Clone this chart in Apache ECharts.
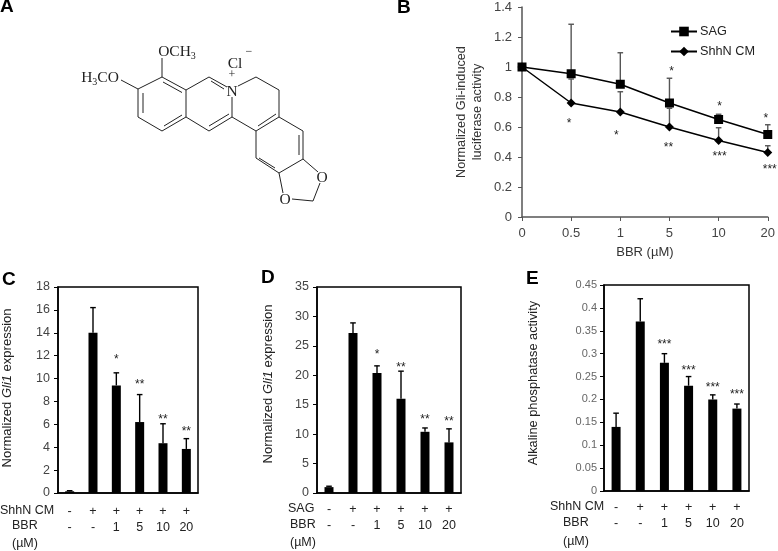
<!DOCTYPE html>
<html><head><meta charset="utf-8">
<style>html,body{margin:0;padding:0;background:#fff}#c{width:778px;height:551px}</style>
<script src="https://cdn.jsdelivr.net/npm/echarts@6/dist/echarts.min.js"></script>
</head><body><div id="c"></div>
<script>
// Panel B
const doses = ['0','0.5','1','5','10','20'];
const sagValues = [1,0.955,0.885,0.76,0.65,0.55];
const sagUpper = [1,1.285,1.095,0.925,0.685,0.615];
const sagStars = ['','','','*','*','*'];
const sagStarLevels = [0,0,0,0.98,0.747,0.67];
const shhValues = [1,0.76,0.70,0.60,0.51,0.43];
const shhUpper = [1,0.92,0.835,0.725,0.595,0.475];
const shhStars = ['','*','*','**','***','***'];
const shhStarLevels = [0,0.636,0.554,0.474,0.415,0.33];
// Panel C
const cValues = [0.15,14,9.4,6.2,4.35,3.85];
const cUpper = [0.2,16.2,10.5,8.6,6.05,4.75];
const cStars = ['','','*','**','**','**'];
const cStarLevels = [0,0,11.8,9.6,6.6,5.55];
// Panel D
const dValues = [1,27.2,20.4,16,10.4,8.6];
const dUpper = [1.15,28.9,21.6,20.7,11.05,10.9];
const dStars = ['','','*','**','**','**'];
const dStarLevels = [0,0,23.9,21.7,12.8,12.4];
// Panel E
const eValues = [0.14,0.37,0.28,0.23,0.20,0.18];
const eUpper = [0.17,0.42,0.30,0.25,0.21,0.19];
const eStars = ['','','***','***','***','***'];
const eStarLevels = [0,0,0.323,0.268,0.2305,0.2137];
// Treatment rows
const rowTreatment = ['-','+','+','+','+','+'];
const rowBBR = ['-','-','1','5','10','20'];

// Structure of berberine chloride (panel A): [x1,y1,x2,y2] in picture pixels
const bonds = [
 [138,89,162,77],[162,77,186,90],[186,90,186,117],[186,117,162,131],[162,131,138,117],[138,117,138,89],
 [143,93,143,113],[163,82,182,92.5],[182,115,164,126],
 [186,90,209,77],[209,77,227,87],[211,81,224,89],[232,97,232,117],[232,117,209,131],[229,114,209,126],[209,131,186,117],
 [238,86,256,77],[256,77,279,90],[279,90,279,117],[279,117,256,131],[256,131,232,117],[276,114,258,126],
 [279,117,303,131],[303,131,303,159],[303,159,279,173],[279,173,256,158],[256,158,256,131],
 [299,135,299,155],[275,168,259,158],
 [303,159,318,172],[320,183,313,201],[313,201,292,199],[283,193,279,173],
 [162,77,162,58],[121,80,138,89]
];
const chemTexts = [
 {t:'{a|OCH}{s|3}',x:177,y:52},
 {t:'{a|H}{s|3}{a|CO}',x:100,y:78},
 {t:'{a|Cl}',x:235,y:64},
 {t:'{a|N}',x:232,y:92},
 {t:'{a|O}',x:322,y:178},
 {t:'{a|O}',x:285,y:200},
 {t:'{p|+}',x:232,y:75},
 {t:'{p|−}',x:249,y:52}
];

const sans = '"Liberation Sans", Arial, sans-serif';
const serif = '"Liberation Serif", "Times New Roman", serif';
const tick = '#444';

function errSeries(id, grid, values, upper, stars, levels, color, z, dx) {
  return {
    name:id, type:'custom', xAxisIndex:grid, yAxisIndex:grid, z, silent:true, clip:false,
    data: upper.map((u,i)=>[i,u]),
    encode:{x:0,y:1},
    renderItem(params, api){
      const i = params.dataIndex;
      const top = api.coord([i, upper[i]]);
      const b = api.coord([i, values[i]]);
      const children = [];
      const st = {stroke:color, lineWidth:1.4};
      if (upper[i] > values[i]) {
        children.push({type:'line',shape:{x1:top[0],y1:top[1],x2:b[0],y2:b[1]},style:st});
        children.push({type:'line',shape:{x1:top[0]-2.8,y1:top[1],x2:top[0]+2.8,y2:top[1]},style:st});
      }
      if (stars[i]) {
        const p = api.coord([i, levels[i]]);
        children.push({type:'text',x:p[0]+(dx?dx[i]:0),y:p[1]+2,
          style:{text:stars[i],font:'12px '+sans,fill:'#222',align:'center',verticalAlign:'middle'}});
      }
      return {type:'group',children};
    }
  };
}

function barGrid(idx, rect, max, interval, fmt) {
  return {
    grid:{left:rect[0],top:rect[1],width:rect[2],height:rect[3],show:true,borderColor:'#000',borderWidth:1.5,backgroundColor:'transparent'},
    xAxis:{type:'category',gridIndex:idx,data:rowTreatment.map((t,i)=>t+'\n'+rowBBR[i]),
      axisTick:{show:false},axisLine:{lineStyle:{color:'#000',width:1.5}},
      axisLabel:{interval:0,color:'#222',fontFamily:sans,fontSize:12.5,lineHeight:15.5,margin:fmt.xMargin,hideOverlap:false}},
    yAxis:{type:'value',gridIndex:idx,min:0,max,interval,splitLine:{show:false},
      axisLine:{show:true,lineStyle:{color:'#000',width:1.5}},
      axisTick:{show:true,length:4,lineStyle:{color:'#000',width:1}},
      axisLabel:{color:fmt.color,fontFamily:sans,fontSize:fmt.size,margin:fmt.margin,
        formatter:v=>+v.toFixed(2)+''},
      name:fmt.name,nameLocation:'middle',nameGap:fmt.gap,nameRotate:90,
      nameTextStyle:{color:'#222',fontFamily:sans,fontSize:fmt.nameSize,padding:[0,0,0,fmt.pad],
        rich:{i:{fontStyle:'italic',fontFamily:sans,fontSize:fmt.nameSize,color:'#222'}}}}
  };
}
const gliName = 'Normalized {i|Gli1} expression';
const C = barGrid(1,[52,287,146,206],18,2,{size:12.5,margin:8,name:gliName,gap:44,nameSize:13,pad:4,xMargin:11,color:tick});
const D = barGrid(2,[317,287,144,206],35,5,{size:12.5,margin:8,name:gliName,gap:42,nameSize:13,pad:12,xMargin:9,color:tick});
const E = barGrid(3,[604,285,145,206],0.45,0.05,{size:11,margin:7,name:'Alkaline phosphatase activity',gap:64,nameSize:12.8,pad:10,xMargin:9,color:'#666'});

const B = {
  grid:{left:522,top:7,width:247,height:210},
  xAxis:{type:'category',gridIndex:0,data:doses,boundaryGap:false,
    axisTick:{show:true,length:4,alignWithLabel:true,lineStyle:{color:'#555',width:1}},
    axisLine:{lineStyle:{color:'#555',width:1.5}},
    axisLabel:{interval:0,color:tick,fontFamily:sans,fontSize:13,margin:10,hideOverlap:false,showMinLabel:true,showMaxLabel:true},
    name:'BBR (µM)',nameLocation:'middle',nameGap:29,nameTextStyle:{color:'#333',fontFamily:sans,fontSize:13}},
  yAxis:{type:'value',gridIndex:0,min:0,max:1.4,interval:0.2,splitLine:{show:false},
    axisLine:{show:true,lineStyle:{color:'#555',width:1.5}},
    axisTick:{show:true,length:4,lineStyle:{color:'#555',width:1}},
    axisLabel:{color:tick,fontFamily:sans,fontSize:13,margin:10,formatter:v=>+v.toFixed(1)+''},
    name:'Normalized Gli-induced\nluciferase activity',nameLocation:'middle',nameGap:37,nameRotate:90,
    nameTextStyle:{color:'#333',fontFamily:sans,fontSize:12.7,lineHeight:16}}
};

function bar(id, grid, values){
  return {name:id,type:'bar',xAxisIndex:grid,yAxisIndex:grid,data:values,barWidth:9,
    itemStyle:{color:'#000'},silent:true,z:2};
}
function line(name, symbol, size, values, z){
  return {name,type:'line',xAxisIndex:0,yAxisIndex:0,data:values,symbol,symbolSize:size,
    lineStyle:{color:'#000',width:1.5},itemStyle:{color:'#000'},silent:true,z};
}

const graphic = [];
bonds.forEach(b=>graphic.push({type:'line',silent:true,shape:{x1:b[0],y1:b[1],x2:b[2],y2:b[3]},style:{stroke:'#222',lineWidth:1}}));
const rich = {a:{font:'15.5px '+serif,fill:'#222'},s:{font:'10px '+serif,fill:'#222',verticalAlign:'bottom',padding:[8,0,0,0]},p:{font:'12px '+serif,fill:'#222'}};
chemTexts.forEach(c=>graphic.push({type:'text',silent:true,x:c.x,y:c.y,style:{text:c.t,rich,align:'center',verticalAlign:'middle'}}));
function plain(text,x,y,font,fill){graphic.push({type:'text',silent:true,x,y,style:{text,font,fill:fill||'#222',align:'left',verticalAlign:'middle'}});}
const panel = 'bold 19px '+sans;
plain('A',0,7,panel,'#000'); plain('B',397,8,panel,'#000'); plain('C',2,280,panel,'#000'); plain('D',261,278,panel,'#000'); plain('E',526,279,panel,'#000');
const rowFont='12.5px '+sans;
plain('ShhN CM',0,511,rowFont); plain('BBR',12,526,rowFont); plain('(µM)',12,544,rowFont);
plain('SAG',288,509,rowFont); plain('BBR',290,525,rowFont); plain('(µM)',290,543,rowFont);
plain('ShhN CM',550,507,rowFont); plain('BBR',563,523,rowFont); plain('(µM)',563,542,rowFont);

const option = {
  animation:false,
  backgroundColor:'#fff',
  textStyle:{fontFamily:sans},
  grid:[B.grid,C.grid,D.grid,E.grid],
  xAxis:[B.xAxis,C.xAxis,D.xAxis,E.xAxis],
  yAxis:[B.yAxis,C.yAxis,D.yAxis,E.yAxis],
  legend:{orient:'vertical',left:665,top:20,itemWidth:26,itemHeight:12,itemGap:7,selectedMode:false,
    data:['SAG','ShhN CM'],textStyle:{color:'#222',fontFamily:sans,fontSize:12.7,padding:[0,0,0,-2]}},
  series:[
    errSeries('err-shh',0,shhValues,shhUpper,shhStars,shhStarLevels,'#555',3,[0,-2,-4,-1,1,2]),
    errSeries('err-sag',0,sagValues,sagUpper,sagStars,sagStarLevels,'#555',3,[0,0,0,2,1,-2]),
    line('SAG','rect',9,sagValues,5),
    line('ShhN CM','diamond',9,shhValues,5),
    bar('C',1,cValues), errSeries('err-c',1,cValues,cUpper,cStars,cStarLevels,'#000',1),
    bar('D',2,dValues), errSeries('err-d',2,dValues,dUpper,dStars,dStarLevels,'#000',1),
    bar('E',3,eValues), errSeries('err-e',3,eValues,eUpper,eStars,eStarLevels,'#000',1)
  ],
  graphic
};
const chart = echarts.init(document.getElementById('c'),null,{renderer:'canvas'});
chart.setOption(option);
</script></body></html>
